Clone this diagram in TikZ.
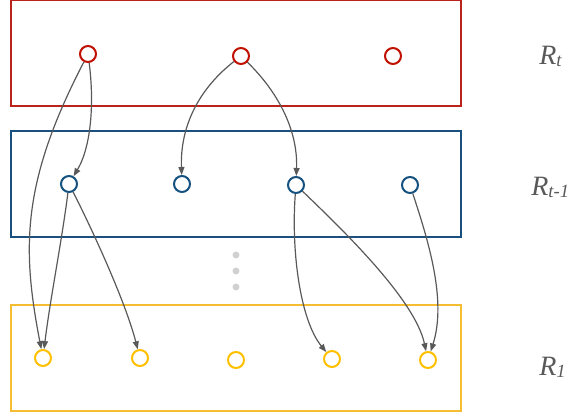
\documentclass[tikz,border=0pt]{standalone}
\usepackage{fontspec}
\setmainfont{Liberation Serif}
\usetikzlibrary{arrows.meta}
\definecolor{redN}{RGB}{192,16,0}
\definecolor{redB}{RGB}{185,35,25}
\definecolor{blueN}{RGB}{22,82,128}
\definecolor{blueB}{RGB}{25,80,125}
\definecolor{yelN}{RGB}{255,192,0}
\definecolor{yelB}{RGB}{245,190,50}
\definecolor{arr}{RGB}{89,89,89}
\definecolor{lab}{RGB}{89,89,89}
\definecolor{dotc}{RGB}{208,208,208}
\tikzset{
  st/.style={circle,draw,line width=1.5pt,minimum size=12pt,inner sep=0pt,fill=white},
  rst/.style={st,draw=redN},
  bst/.style={st,draw=blueN},
  yst/.style={st,draw=yelN},
  layer/.style={line width=0.8pt},
  edge/.style={draw=arr,line width=0.9pt,-{Triangle[length=6pt,width=4.5pt]}},
  lbl/.style={anchor=base west,text=lab,inner sep=0pt,font=\fontsize{21}{22}\selectfont\itshape},
  dotn/.style={circle,fill=dotc,minimum size=5.2pt,inner sep=0pt}
}
\newcommand{\subs}[1]{\raisebox{-1.5pt}{\fontsize{14}{14}\selectfont #1}}
\begin{document}
\begin{tikzpicture}[x=0.75pt,y=-0.75pt]
\useasboundingbox (0,0) rectangle (576,415);
% layers
\draw[layer,draw=redB] (11,0.6) rectangle (461,106);
\draw[layer,draw=blueB] (11,131) rectangle (461,237);
\draw[layer,draw=yelB] (11,305) rectangle (461,411);
% dots
\node[dotn] (d1) at (236,255) {};
\node[dotn] (d2) at (236,271) {};
\node[dotn] (d3) at (236,287) {};
% nodes
\node[rst] (r1) at (88,54) {};
\node[rst] (r2) at (241,56) {};
\node[rst] (r3) at (393,56) {};
\node[bst] (b1) at (69,184) {};
\node[bst] (b2) at (182,184) {};
\node[bst] (b3) at (296,185) {};
\node[bst] (b4) at (410,185) {};
\node[yst] (y1) at (43,358) {};
\node[yst] (y2) at (140,358) {};
\node[yst] (y3) at (236,360) {};
\node[yst] (y4) at (332,359) {};
\node[yst] (y5) at (428,360) {};
% edges
\draw[edge] (r1) .. controls (21,183) and (22,249) .. (y1);
\draw[edge] (r1) .. controls (94,100) and (92,145) .. (b1);
\draw[edge] (r2) .. controls (200,88) and (180,125) .. (b2);
\draw[edge] (r2) .. controls (276,90) and (298,128) .. (b3);
\draw[edge] (b1) .. controls (62,240) and (50,300) .. (y1);
\draw[edge] (b1) .. controls (90,225) and (125,300) .. (y2);
\draw[edge] (b3) .. controls (291,250) and (300,320) .. (y4);
\draw[edge] (b3) .. controls (345,232) and (415,300) .. (y5);
\draw[edge] (b4) .. controls (428,240) and (447,300) .. (y5);
% labels
\node[lbl] (lt) at (539,64) {R\subs{t}};
\node[lbl] (lt1) at (531,195) {R\subs{t-1}};
\node[lbl] (l1) at (539,375) {R\subs{1}};
\end{tikzpicture}
\end{document}
